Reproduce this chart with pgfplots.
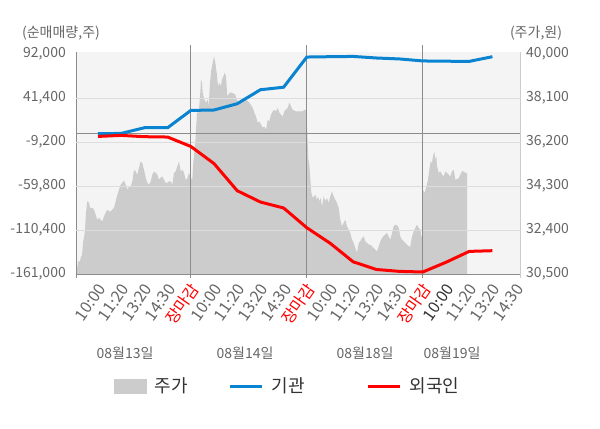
\documentclass[border=0pt]{standalone}
\usepackage{fontspec}
\setmainfont{Noto Sans CJK KR}
\usepackage{pgfplots}
\usepackage{pgfplotstable}
\pgfplotsset{compat=1.18}
\definecolor{areagray}{HTML}{CCCCCC}
\definecolor{bggray}{HTML}{F4F4F4}
\definecolor{gridgray}{HTML}{DDDDDD}
\definecolor{axgray}{HTML}{8C8C8C}
\definecolor{raxgray}{HTML}{CCCCCC}
\definecolor{txtgray}{HTML}{666666}
\definecolor{darktxt}{HTML}{333333}
\definecolor{instblue}{HTML}{0A84D0}
\definecolor{forred}{HTML}{FF0000}

\pgfplotstableread{
u p
0 30830
1 30830
1.5 30770
2 31040
4 31040
5 31260
6 31290
7 31850
8.5 32200
9 32410
10 33150
11.3 33640
13 33580
14 33360
16 33360
18 33280
19.7 33060
21.3 32840
23 32930
24.7 32840
26.3 32770
28 32990
29.7 33150
31.3 33280
33 33200
34.7 33200
36.3 33280
38 33360
39.7 33640
41.3 33920
43 34140
44.7 34360
46.3 34440
48 34530
49.7 34360
51.3 34140
53 34270
54.7 34280
56.3 34500
58 35000
59.7 34930
61.3 34790
63 35090
64.7 35360
66.3 35290
68 35000
69.7 34660
71.3 34440
73 34360
74.7 34500
76.3 34790
78 34920
79.7 34870
81.3 34790
83 34570
84.7 34660
86.3 34710
88 34570
89.7 34440
91.3 34440
93 34500
94.7 34500
96.3 34360
98 34870
99.7 34930
101.3 35150
103 35360
104.7 34930
106.3 35000
108 34870
109.7 34570
111.3 34620
113 34870
114.7 34660
116.3 34570
117.3 35310
119.3 36170
121 37470
122.7 37470
124.3 38330
125 38890
126 38760
126.7 38330
128.3 38030
130 37900
131.7 38030
132.7 37740
134 38760
135.3 39320
136.7 39620
138 39900
139.3 39620
140.7 39190
142 38600
143.3 38760
144.7 38600
146 38890
147.3 39030
148.7 39190
150 39030
151.3 38170
154 38340
156.7 38310
159.3 38240
160.7 38030
163.3 37900
166.7 38030
170 38030
173.3 37900
176.7 37680
178.3 37470
180 37300
181.7 37030
183.3 37090
185 36950
186.7 36820
188.3 36870
190 36730
191.7 37160
193.3 37090
195 37380
196.7 37520
198.3 37590
200 37520
201.7 37670
203.3 37470
206.7 37300
208.3 37520
211.7 37670
213.3 37900
215 37740
216.7 37590
220 37520
226.7 37520
228.3 37590
230 37590
231 36860
232.3 35480
233.3 35220
234 34790
235.3 34010
236.7 33790
238 33850
239.3 33920
240.7 33710
242 33850
243.3 33640
244.7 33780
246 33420
247.7 33850
249.3 33640
251 33780
252.7 33570
254.3 33850
256 34070
257.7 33850
259.3 33710
261 33570
262.7 33350
264.3 32840
266 32560
267.7 32700
269.3 32840
271 32560
272.7 32410
274.3 32270
276 31980
277.7 31840
279.3 31620
281 31410
282.7 31840
284.3 31910
286 32050
287.7 32120
289.3 31910
291 31840
292.7 31770
294.3 31770
296 31690
297.7 31620
299.3 31550
301 31480
302.7 31690
304.3 31910
306 32050
307.7 32150
309.3 32200
311 32270
312.7 32120
314.3 31980
316 32270
317.7 32560
319.3 32630
321 32600
322.7 32490
324.3 32120
326 31980
327.7 31910
329.3 31840
331 31770
332.7 31690
334.3 31690
336 32120
337.7 32340
339.3 32490
341 32630
342.7 32490
344.3 32410
345.3 32120
346 32120
346.7 34140
348.7 34000
350 34210
352 34570
353.3 35000
354.7 35360
356 35290
357 35580
358.3 35790
359.3 35440
360.3 35580
361 35150
362.7 34860
364.3 34930
366 34790
367.7 34710
369.3 34930
371 34860
372.7 34790
374.3 34710
376 34930
377.7 35000
379.3 34570
381 34600
382.7 34640
384.3 34790
386 34930
387.7 34930
389.3 34860
391 34860
}\pricetable

\pgfplotstableread{
u inst
22 300
45.2 700
68.4 7200
91.6 7200
114.8 27100
138 27600
161.2 34800
184.4 50900
207.6 53800
230.8 88500
254 88900
277.2 89200
300.4 87400
323.6 86300
346.8 84000
370 83700
393.2 83500
416.4 88900
}\insttable

\pgfplotstableread{
u fore
22 -2800
45.2 -1600
68.4 -3100
91.6 -3500
114.8 -14300
138 -34000
161.2 -65200
184.4 -78200
207.6 -85100
230.8 -107800
254 -125500
277.2 -147000
300.4 -155800
323.6 -158000
346.8 -158700
370 -147500
393.2 -135000
416.4 -134200
}\foretable

\begin{document}
\begin{tikzpicture}[x=1bp,y=1bp]
\useasboundingbox[fill=white] (0,0) rectangle (600,428);

% price axis (right)
\begin{axis}[
  at={(76bp,154bp)}, anchor=south west,
  scale only axis, width=444bp, height=222bp,
  xmin=0, xmax=444, ymin=30500, ymax=40086,
  scaled y ticks=false,
  axis x line=none,
  axis y line*=right,
  y axis line style={draw=raxgray, line width=0.8bp},
  axis background/.style={fill=bggray},
  ytick={30500,32400,34300,36200,38100,40000},
  yticklabels={{30,500},{32,400},{34,300},{36,200},{38,100},{40,000}},
  ytick style={draw=none},
  yticklabel style={anchor=west, xshift=6bp, inner sep=0pt, font=\fontsize{14bp}{14bp}\selectfont, text=txtgray},
]
\addplot[fill=areagray, draw=none] table[x=u, y=p] {\pricetable} \closedcycle;
\end{axis}

% net trading axis (left)
\begin{axis}[
  at={(76bp,154bp)}, anchor=south west,
  scale only axis, width=444bp, height=222bp,
  xmin=0, xmax=444, ymin=-161000, ymax=94300,
  scaled y ticks=false,
  clip=false,
  axis y line*=left, axis x line*=bottom,
  axis line style={draw=axgray, line width=0.9bp},
  ytick={-161000,-110400,-59800,-9200,41400,92000},
  yticklabels={{-161,000},{-110,400},{-59,800},{-9,200},{41,400},{92,000}},
  ytick style={draw=none},
  yticklabel style={anchor=east, xshift=-10bp, inner sep=0pt, font=\fontsize{14bp}{14bp}\selectfont, text=txtgray},
  extra y ticks={-110400,-59800,-9200,41400},
  extra y tick labels={},
  extra y tick style={grid=major, major grid style={draw=gridgray, line width=0.9bp}, tick style={draw=none}},
  xtick={22,45.2,68.4,91.6,114.8,138,161.2,184.4,207.6,230.8,254,277.2,300.4,323.6,346.8,370,393.2,416.4,439.6},
  xticklabels={10:00,11:20,13:20,14:30,\textcolor{forred}{장마감},10:00,11:20,13:20,14:30,\textcolor{forred}{장마감},10:00,11:20,13:20,14:30,\textcolor{forred}{장마감},\textcolor{darktxt}{10:00},11:20,13:20,14:30},
  xtick style={draw=none},
  xticklabel style={xshift=4bp, yshift=-12bp, rotate=55, anchor=east, inner sep=0pt, font=\fontsize{16bp}{16bp}\selectfont, text=txtgray},
  legend image code/.code={\draw[#1] (0bp,0bp) -- (32bp,0bp);},
  legend columns=3,
  legend style={at={(0.0856,-0.5045)}, anchor=west, draw=none, fill=none, inner sep=0pt,
    font=\fontsize{18bp}{18bp}\selectfont, text=darktxt,
    /tikz/every odd column/.append style={column sep=6bp},
    /tikz/every even column/.append style={column sep=0bp}},
]
\draw[axgray, line width=1bp] (axis cs:0,0) -- (axis cs:444,0);
\draw[axgray, line width=1bp] ([yshift=-4bp]axis cs:114.8,-161000) -- ([yshift=7bp]axis cs:114.8,94300);
\draw[axgray, line width=1bp] ([yshift=-4bp]axis cs:230.8,-161000) -- ([yshift=7bp]axis cs:230.8,94300);
\draw[axgray, line width=1bp] ([yshift=-4bp]axis cs:346.8,-161000) -- ([yshift=7bp]axis cs:346.8,94300);
\draw[axgray, line width=0.9bp] ([yshift=-4bp]axis cs:0,-161000) -- (axis cs:0,-161000);
\draw[raxgray, line width=0.9bp] ([yshift=-4bp]axis cs:444,-161000) -- (axis cs:444,-161000);
\addlegendimage{legend image code/.code={\fill[areagray] (0bp,-7bp) rectangle (32bp,7bp);}}
\addlegendentry{\makebox[72bp][l]{주가}}
\addplot[instblue, line width=3bp] table[x=u, y=inst] {\insttable};
\addlegendentry{\makebox[93bp][l]{기관}}
\addplot[forred, line width=3bp] table[x=u, y=fore] {\foretable};
\addlegendentry{외국인}
\end{axis}

\node[font=\fontsize{14bp}{14bp}\selectfont, text=txtgray] at (61,395) {(순매매량,주)};
\node[font=\fontsize{14bp}{14bp}\selectfont, text=txtgray] at (536,395) {(주가,원)};
\node[font=\fontsize{14bp}{14bp}\selectfont, text=txtgray] at (125,75) {08월13일};
\node[font=\fontsize{14bp}{14bp}\selectfont, text=txtgray] at (245,75) {08월14일};
\node[font=\fontsize{14bp}{14bp}\selectfont, text=txtgray] at (365,75) {08월18일};
\node[font=\fontsize{14bp}{14bp}\selectfont, text=txtgray] at (452,75) {08월19일};
\end{tikzpicture}
\end{document}
